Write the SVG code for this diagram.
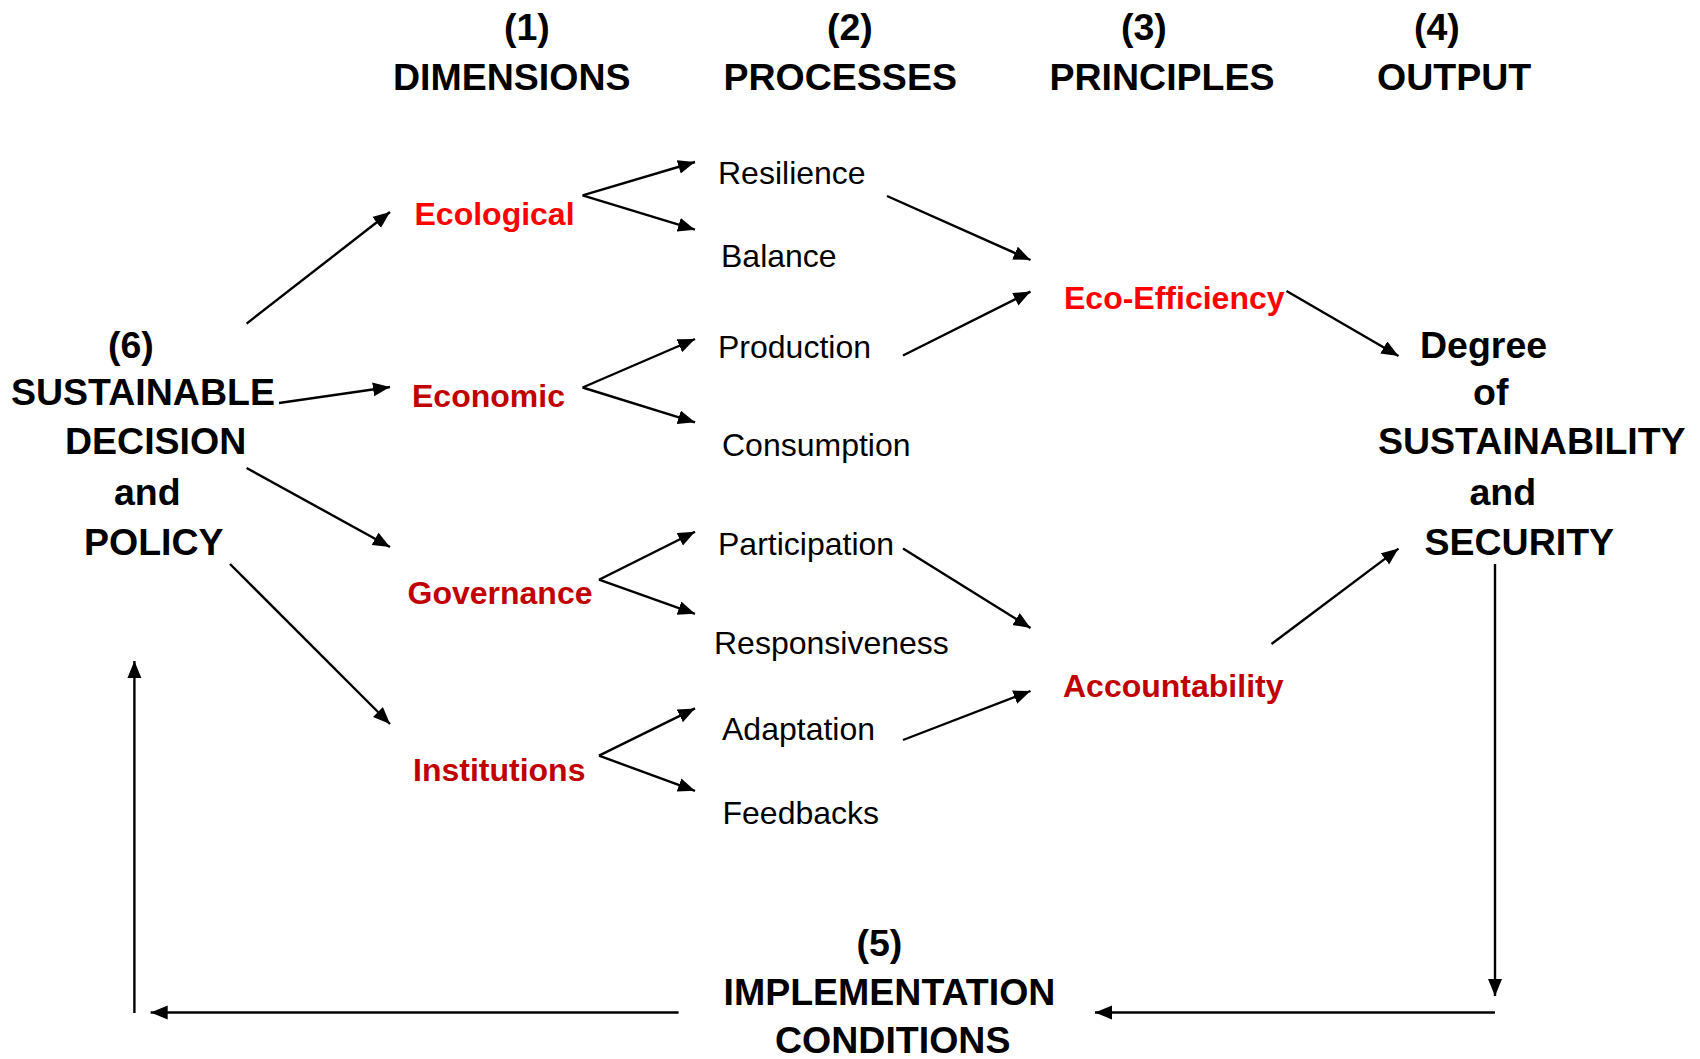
<svg xmlns="http://www.w3.org/2000/svg" width="1700" height="1059" viewBox="0 0 1700 1059">
<style>
text{font-family:"Liberation Sans",Arial,sans-serif;}
.h{font-size:37.5px;font-weight:bold;fill:#000;}
.r1{font-size:32px;font-weight:bold;fill:#FF0000;}
.r2{font-size:32px;font-weight:bold;fill:#C00000;}
.p{font-size:32px;fill:#000;}
.c line{stroke:#000;stroke-width:2.4;fill:none;marker-end:url(#ah);}
</style>
<defs>
<marker id="ah" markerUnits="userSpaceOnUse" markerWidth="19" markerHeight="15" refX="17" refY="7" orient="auto">
<path d="M0,0 L17,7 L0,14 z" fill="#000"/>
</marker>
</defs>
<rect width="1700" height="1059" fill="#fff"/>
<g id="col1"><text class="h" x="504" y="40">(1)</text><text class="h" x="393" y="89.5">DIMENSIONS</text></g>
<g id="col2"><text class="h" x="827" y="40">(2)</text><text class="h" x="723.5" y="89.5">PROCESSES</text></g>
<g id="col3"><text class="h" x="1121" y="40">(3)</text><text class="h" x="1049.5" y="89.5">PRINCIPLES</text></g>
<g id="col4"><text class="h" x="1414" y="40">(4)</text><text class="h" x="1377" y="89.5">OUTPUT</text></g>
<g id="decision">
<text class="h" x="108" y="358">(6)</text>
<text class="h" x="11" y="405">SUSTAINABLE</text>
<text class="h" x="65" y="454">DECISION</text>
<text class="h" x="114" y="505">and</text>
<text class="h" x="84" y="555">POLICY</text>
</g>
<g id="output">
<text class="h" x="1420" y="358">Degree</text>
<text class="h" x="1473" y="405">of</text>
<text class="h" x="1378" y="454">SUSTAINABILITY</text>
<text class="h" x="1469.5" y="505">and</text>
<text class="h" x="1424.5" y="555">SECURITY</text>
</g>
<g id="implementation">
<text class="h" x="856.5" y="956">(5)</text>
<text class="h" x="723.5" y="1004.5">IMPLEMENTATION</text>
<text class="h" x="775" y="1053">CONDITIONS</text>
</g>
<g id="ecological"><text class="r1" x="414.5" y="225">Ecological</text></g>
<g id="economic"><text class="r2" x="412" y="407">Economic</text></g>
<g id="governance"><text class="r2" x="407.5" y="604">Governance</text></g>
<g id="institutions"><text class="r2" x="413" y="781">Institutions</text></g>
<g id="ecoefficiency"><text class="r1" x="1064" y="309">Eco-Efficiency</text></g>
<g id="accountability"><text class="r2" x="1063" y="697">Accountability</text></g>
<g id="resilience"><text class="p" x="718" y="184">Resilience</text></g>
<g id="balance"><text class="p" x="721" y="267">Balance</text></g>
<g id="production"><text class="p" x="718" y="358">Production</text></g>
<g id="consumption"><text class="p" x="722" y="456">Consumption</text></g>
<g id="participation"><text class="p" x="718" y="555">Participation</text></g>
<g id="responsiveness"><text class="p" x="714" y="654">Responsiveness</text></g>
<g id="adaptation"><text class="p" x="722" y="740">Adaptation</text></g>
<g id="feedbacks"><text class="p" x="722.5" y="824">Feedbacks</text></g>
<g id="connectors" class="c">
<line x1="246.6" y1="323.6" x2="390" y2="212"/>
<line x1="279" y1="403" x2="390" y2="387"/>
<line x1="246.6" y1="468" x2="390" y2="547"/>
<line x1="230" y1="564" x2="390" y2="724"/>
<line x1="582.6" y1="195.3" x2="695" y2="162"/>
<line x1="582.6" y1="195.3" x2="695" y2="229.7"/>
<line x1="582.6" y1="387.5" x2="695" y2="339"/>
<line x1="582.6" y1="387.5" x2="695" y2="422.3"/>
<line x1="599" y1="579.7" x2="695" y2="531.7"/>
<line x1="599" y1="579.7" x2="695" y2="613.8"/>
<line x1="599" y1="755.7" x2="695" y2="708.4"/>
<line x1="599" y1="755.7" x2="695" y2="790.8"/>
<line x1="887" y1="196" x2="1030.5" y2="260"/>
<line x1="903" y1="355.5" x2="1030.5" y2="291.6"/>
<line x1="1286.5" y1="291" x2="1398.5" y2="356"/>
<line x1="903" y1="548.5" x2="1030.5" y2="628"/>
<line x1="903" y1="740" x2="1030.5" y2="691"/>
<line x1="1271.5" y1="644" x2="1398.5" y2="548.6"/>
<line x1="1495" y1="564" x2="1495" y2="996"/>
<line x1="1495" y1="1012.5" x2="1095" y2="1012.5"/>
<line x1="678.6" y1="1012.5" x2="150.7" y2="1012.5"/>
<line x1="134.4" y1="1013" x2="134.4" y2="661"/>
</g>
</svg>
